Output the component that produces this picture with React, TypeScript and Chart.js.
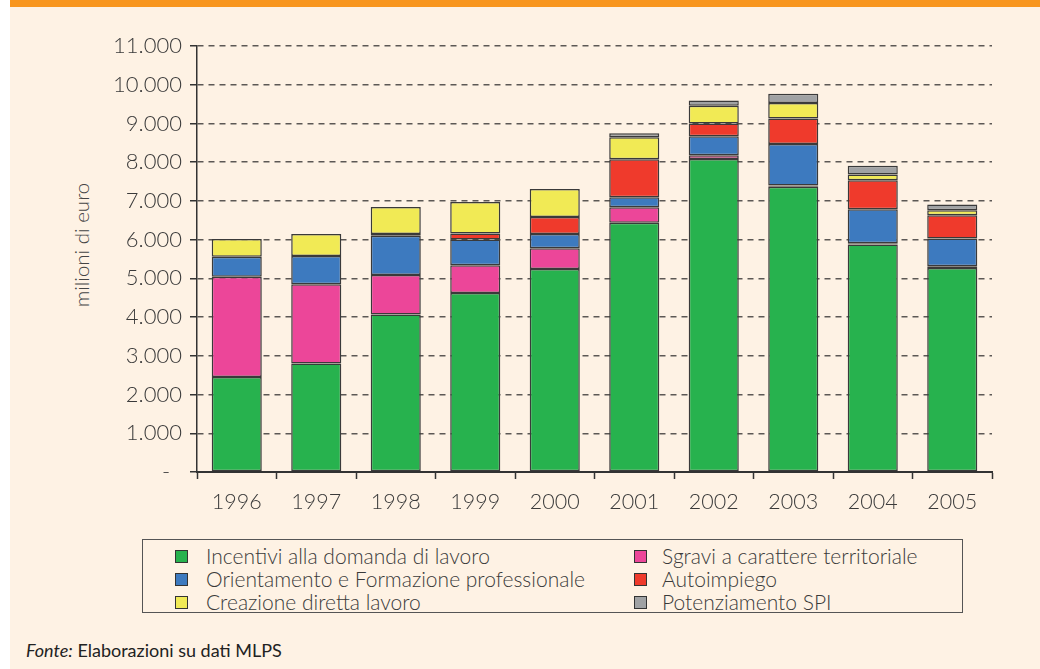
import React, { useEffect, useRef } from "react";
import { Chart, registerables } from "chart.js";

Chart.register(...registerables);

const categories = ["1996", "1997", "1998", "1999", "2000", "2001", "2002", "2003", "2004", "2005"];

const incentivi = [2455, 2800, 4070, 4625, 5240, 6435, 8080, 7365, 5875, 5270];
const sgravi = [2585, 2050, 1015, 715, 535, 400, 100, 30, 30, 40];
const orientamento = [515, 725, 1015, 665, 370, 260, 490, 1075, 880, 720];
const autoimpiego = [0, 0, 45, 155, 440, 980, 330, 655, 750, 600];
const creazione = [460, 570, 700, 810, 725, 570, 455, 400, 150, 130];
const potenziamento = [0, 0, 0, 0, 0, 105, 140, 240, 220, 145];

const seriesLabels = [
  "Incentivi alla domanda di lavoro",
  "Sgravi a carattere territoriale",
  "Orientamento e Formazione professionale",
  "Autoimpiego",
  "Creazione diretta lavoro",
  "Potenziamento SPI",
];
const seriesValues = [incentivi, sgravi, orientamento, autoimpiego, creazione, potenziamento];
const seriesColors = ["#27B24E", "#EC4699", "#3D7ABF", "#EF3A2C", "#F1EA55", "#A0A2A4"];

const yTickLabels = ["-\u00a0\u00a0", "1.000", "2.000", "3.000", "4.000", "5.000", "6.000", "7.000", "8.000", "9.000", "10.000", "11.000"];

const yTitle = "milioni di euro";
const sourceLabel = "Fonte:";
const sourceText = " Elaborazioni su dati MLPS";

const FONT = "Lato, 'Open Sans', sans-serif";
const TEXT = "#3a3a3a";

function ChartCanvas() {
  const ref = useRef<HTMLCanvasElement | null>(null);
  useEffect(() => {
    if (!ref.current) return;
    const chart = new Chart(ref.current, {
      type: "bar",
      data: {
        labels: categories,
        datasets: seriesValues.map((vals, i) => ({
          label: seriesLabels[i],
          data: vals,
          backgroundColor: seriesColors[i],
          borderColor: "#3a3a3a",
          borderWidth: 1.5,
          borderSkipped: false,
          categoryPercentage: 1,
          barPercentage: 0.63,
        })),
      },
      options: {
        responsive: false,
        animation: false,
        layout: { padding: { top: 46, right: 48, left: 0, bottom: 0 } },
        plugins: {
          legend: { display: false },
          tooltip: { enabled: false },
          title: { display: false },
        },
        scales: {
          x: {
            stacked: true,
            offset: true,
            grid: {
              offset: true,
              drawOnChartArea: false,
              drawTicks: true,
              tickLength: 7,
              tickColor: "#333",
              tickWidth: 1.5,
            },
            border: { display: true, color: "#333", width: 2 },
            ticks: {
              color: TEXT,
              font: { family: FONT, size: 21.5, weight: "300" as any },
              padding: 10,
              maxRotation: 0,
            },
            afterFit: (scale: any) => {
              scale.height = 58;
            },
          },
          y: {
            stacked: true,
            min: 0,
            max: 11000,
            grid: {
              color: (ctx: any) => (ctx.tick && ctx.tick.value === 0 ? "rgba(0,0,0,0)" : "#5c5855"),
              lineWidth: 1.5,
              drawTicks: true,
              tickLength: 7,
              tickColor: "#333",
              tickWidth: 1.5,
              tickBorderDash: [],
            },
            border: { display: true, color: "#333", width: 1.5, dash: [6, 5] },
            ticks: {
              stepSize: 1000,
              color: TEXT,
              font: { family: FONT, size: 22, weight: "300" as any },
              padding: 8,
              callback: (v: any) => yTickLabels[Math.round(Number(v) / 1000)],
            },
            afterFit: (scale: any) => {
              scale.width = 197;
            },
          },
        },
      },
    });
    return () => chart.destroy();
  }, []);
  return (
    <canvas
      ref={ref}
      width={1040}
      height={530}
      style={{ position: "absolute", left: 0, top: 0, width: 1040, height: 530 }}
    />
  );
}

function Legend() {
  const rowTops = [544, 567, 590];
  const colSquareX = [175, 634];
  const colTextX = [206, 662];
  return (
    <>
      <div
        style={{
          position: "absolute",
          left: 142,
          top: 539,
          width: 821,
          height: 74,
          border: "1.5px solid #555",
          boxSizing: "border-box",
        }}
      />
      {seriesLabels.map((lab, i) => {
        const row = Math.floor(i / 2);
        const col = i % 2;
        const top = rowTops[row];
        return (
          <React.Fragment key={lab}>
            <div
              style={{
                position: "absolute",
                left: colSquareX[col],
                top: top + 6,
                width: 13,
                height: 13,
                boxSizing: "border-box",
                border: "1px solid #333",
                background: seriesColors[i],
              }}
            />
            <div
              style={{
                position: "absolute",
                left: colTextX[col],
                top: top - 0.5,
                fontFamily: FONT,
                fontSize: 21,
                fontWeight: 300,
                lineHeight: "23px",
                color: TEXT,
                whiteSpace: "nowrap",
              }}
            >
              {lab}
            </div>
          </React.Fragment>
        );
      })}
    </>
  );
}

export default function App() {
  return (
    <div
      style={{
        position: "fixed",
        left: 0,
        top: 0,
        width: 1040,
        height: 669,
        background: "#ffffff",
        overflow: "hidden",
      }}
    >
      <div style={{ position: "absolute", left: 10, top: 0, width: 1030, height: 669, background: "#FEF2E4" }} />
      <div style={{ position: "absolute", left: 10, top: 0, width: 1030, height: 7, background: "#F8961E" }} />
      <div
        style={{
          position: "absolute",
          left: 81,
          top: 245,
          transform: "translate(-50%, -50%) rotate(-90deg)",
          fontFamily: FONT,
          fontSize: 20.5,
          fontWeight: 300,
          color: "#444",
          whiteSpace: "nowrap",
        }}
      >
        {yTitle}
      </div>
      <ChartCanvas />
      <Legend />
      <div
        style={{
          position: "absolute",
          left: 26,
          top: 640,
          fontFamily: FONT,
          fontSize: 18,
          lineHeight: "20px",
          color: "#222",
          whiteSpace: "nowrap",
        }}
      >
        <i>{sourceLabel}</i>
        {sourceText}
      </div>
    </div>
  );
}
